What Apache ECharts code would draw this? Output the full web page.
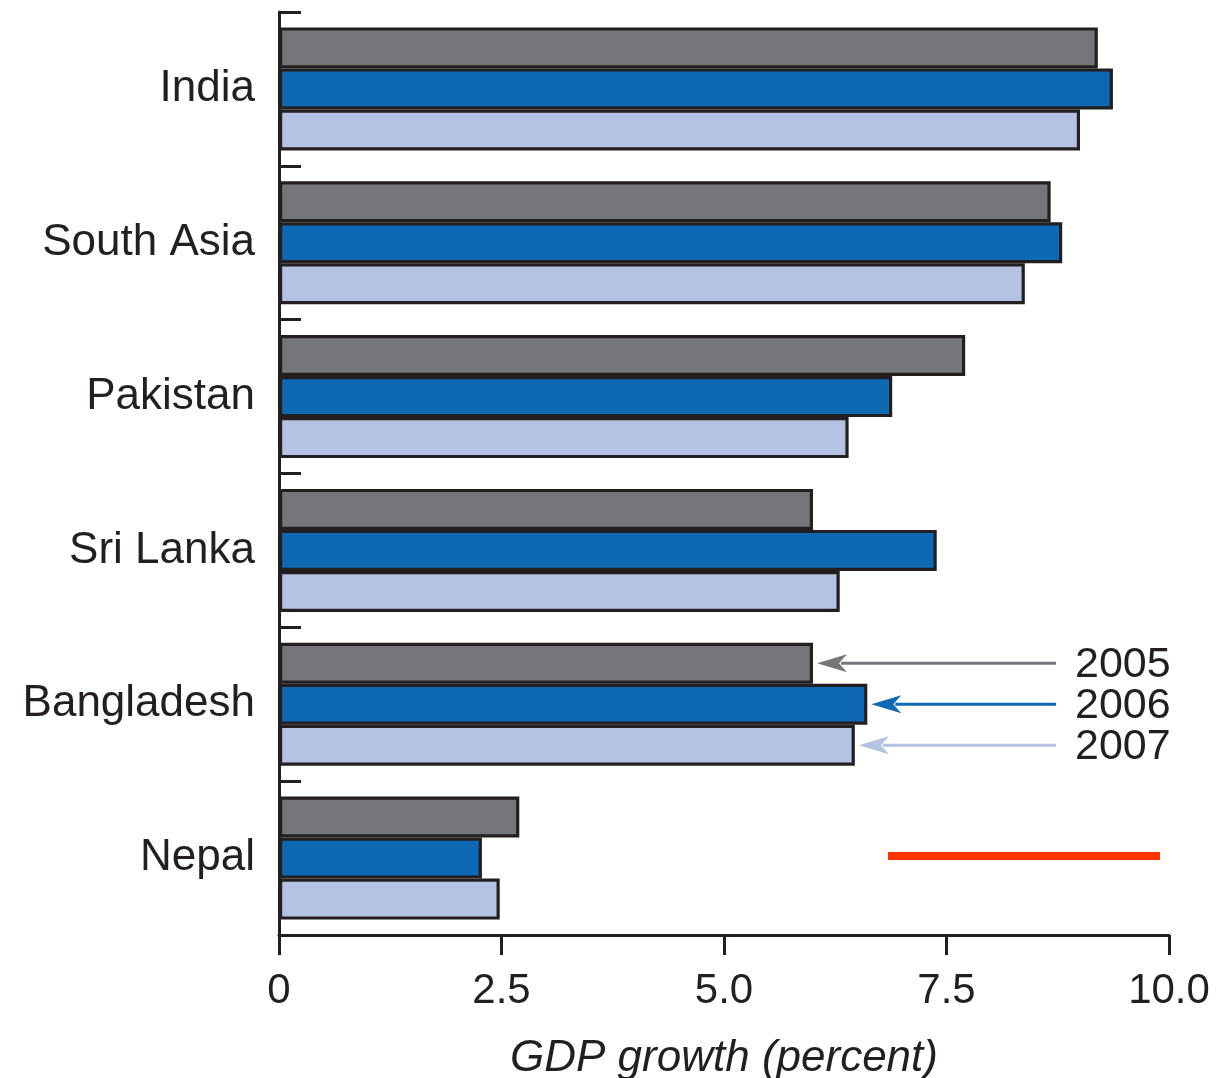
<!DOCTYPE html>
<html>
<head>
<meta charset="utf-8">
<title>GDP growth, South Asia</title>
<script src="https://cdn.jsdelivr.net/npm/echarts@6/dist/echarts.min.js"></script>
<style>
  html, body { margin: 0; padding: 0; background: #ffffff; }
  #chart { width: 1220px; height: 1078px; }
</style>
</head>
<body>
<div id="chart"></div>
<script>
// Real GDP growth by country, percent
const categories = ['India', 'South Asia', 'Pakistan', 'Sri Lanka', 'Bangladesh', 'Nepal'];
const years = ['2005', '2006', '2007'];
const gdp2005 = [9.2, 8.67, 7.71, 6.0, 6.0, 2.7];
const gdp2006 = [9.37, 8.8, 6.89, 7.39, 6.61, 2.28];
const gdp2007 = [9.0, 8.38, 6.4, 6.3, 6.47, 2.48];
const xTicks = [0, 2.5, 5.0, 7.5, 10.0];

const colors = ['#75767a', '#0d69b4', '#b4c3e3'];
const ink = '#231f20';
const barCategoryGap = 0.2;
const keyCategory = 'Bangladesh';

const chart = echarts.init(document.getElementById('chart'), null, { renderer: 'canvas' });

const seriesValues = [gdp2005, gdp2006, gdp2007];

const option = {
  animation: false,
  backgroundColor: '#ffffff',
  textStyle: { fontFamily: '"Liberation Sans", Arial, sans-serif' },
  grid: { left: 279, right: 51, top: 12, bottom: 143, containLabel: false, outerBoundsMode: 'none' },
  xAxis: {
    type: 'value',
    min: xTicks[0],
    max: xTicks[xTicks.length - 1],
    interval: xTicks[1] - xTicks[0],
    splitLine: { show: false },
    axisLine: { show: true, lineStyle: { color: ink, width: 3 } },
    axisTick: { show: true, length: 20, lineStyle: { color: ink, width: 3 } },
    axisLabel: {
      color: ink,
      fontSize: 42,
      margin: 35,
      formatter: v => (v === 0 ? '0' : v.toFixed(1))
    },
    name: 'GDP growth (percent)',
    nameLocation: 'middle',
    nameGap: 102,
    nameTextStyle: { color: ink, fontSize: 44, fontStyle: 'italic' }
  },
  yAxis: {
    type: 'category',
    data: categories,
    inverse: true,
    axisLine: { show: true, lineStyle: { color: ink, width: 3 } },
    axisTick: { show: true, inside: true, length: 22, lineStyle: { color: ink, width: 3 } },
    axisLabel: { color: ink, fontSize: 44, margin: 24 },
    splitLine: { show: false }
  },
  series: years.map((y, i) => ({
    name: y,
    type: 'bar',
    data: seriesValues[i],
    barGap: '0%',
    barCategoryGap: (barCategoryGap * 100) + '%',
    itemStyle: { color: colors[i], borderColor: ink, borderWidth: 3.2 }
  }))
};

chart.setOption(option);

// Year key: arrows pointing at the Bangladesh bars, with year labels on the right
function drawKey() {
  const ci = categories.indexOf(keyCategory);
  const c0 = chart.convertToPixel({ yAxisIndex: 0 }, categories[0]);
  const c1 = chart.convertToPixel({ yAxisIndex: 0 }, categories[1]);
  const band = Math.abs(c1 - c0);
  const center = chart.convertToPixel({ yAxisIndex: 0 }, keyCategory);
  const barH = band * (1 - barCategoryGap) / years.length;
  const tailX = 1056;
  const textX = 1075;
  const elements = [];
  years.forEach((y, i) => {
    const yc = center + (i - (years.length - 1) / 2) * barH;
    const tipX = chart.convertToPixel({ xAxisIndex: 0 }, seriesValues[i][ci]) + 4;
    const headLen = 30, headHalf = 9;
    elements.push({
      type: 'line',
      shape: { x1: tipX + headLen - 6, y1: yc, x2: tailX, y2: yc },
      style: { stroke: colors[i], lineWidth: 3 },
      z: 100
    });
    elements.push({
      type: 'polygon',
      shape: { points: [[tipX, yc], [tipX + headLen, yc - headHalf], [tipX + headLen - 8, yc], [tipX + headLen, yc + headHalf]] },
      style: { fill: colors[i] },
      z: 100
    });
    elements.push({
      type: 'text',
      x: textX,
      y: yc + 2,
      style: {
        text: y,
        fill: ink,
        font: '43px "Liberation Sans", Arial, sans-serif',
        textVerticalAlign: 'middle',
        textAlign: 'left'
      },
      z: 100
    });
  });
  // red rule beside the Nepal bars
  elements.push({
    type: 'line',
    shape: { x1: 888, y1: 856, x2: 1160, y2: 856 },
    style: { stroke: '#ff3300', lineWidth: 8 },
    z: 100
  });
  chart.setOption({ graphic: { elements } });
}
drawKey();
</script>
</body>
</html>
